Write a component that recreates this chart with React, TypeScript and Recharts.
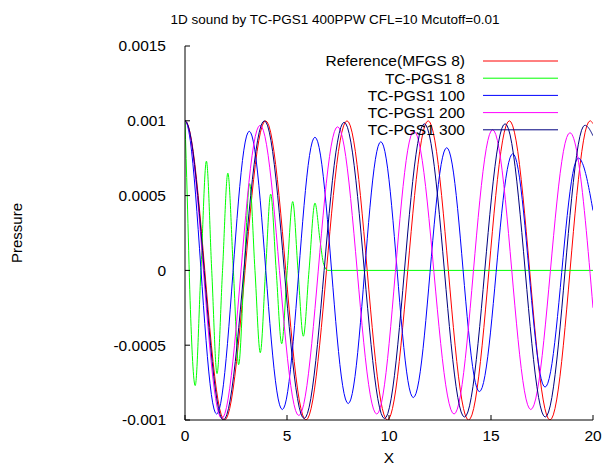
import { LineChart, Line, XAxis, YAxis, Legend } from "recharts";

const FONT = "'Liberation Sans', Arial, Helvetica, sans-serif";

// axis ticks
const xTicks = [0, 5, 10, 15, 20];
const yTicks = [-0.001, -0.0005, 0, 0.0005, 0.001, 0.0015];

// Reference(MFGS 8): peaks / troughs, plus the value at x=20
const refX = [0, 1.94, 3.95, 5.93, 7.94, 9.92, 11.92, 13.9, 15.9, 17.89, 19.86, 20];
const refY = [0.001, -0.001, 0.001, -0.001, 0.001, -0.001, 0.001, -0.001, 0.001, -0.001, 0.001, 0.00098];

// TC-PGS1 8 (short wave, dies out near x=7)
const tc8X = [0, 0.11, 0.25, 0.5, 0.78, 1.05, 1.31, 1.57, 1.84, 2.1, 2.37, 2.63, 2.9, 3.17, 3.43, 3.69, 3.95, 4.2, 4.47, 4.74, 5.01, 5.28, 5.54, 5.8, 6.08, 6.37, 6.62, 6.8, 7.0, 20];
const tc8Y = [0.001, 0.00049, -0.0002, -0.00077, 0, 0.00073, 0, -0.00069, 0, 0.00065, 0, -0.00063, 0, 0.00058, 0, -0.00055, 0, 0.00051, 0, -0.00049, 0, 0.00046, 0, -0.00044, 0, 0.00045, 0.0002, 0.00004, 0, 0];

// TC-PGS1 100
const tc100X = [0, 1.55, 3.15, 4.77, 6.37, 8.0, 9.6, 11.19, 12.83, 14.43, 16.07, 17.65, 19.28, 20];
const tc100Y = [0.001, -0.00096, 0.00093, -0.00093, 0.00089, -0.00089, 0.00086, -0.00085, 0.00082, -0.00081, 0.00078, -0.00078, 0.00075, 0.0004];

// TC-PGS1 200
const tc200X = [0, 1.8, 3.68, 5.58, 7.48, 9.4, 11.22, 13.19, 15.08, 16.95, 18.87, 20];
const tc200Y = [0.001, -0.00099, 0.00097, -0.00097, 0.00096, -0.00096, 0.00093, -0.00096, 0.00094, -0.00093, 0.00092, -0.00025];

// TC-PGS1 300
const tc300X = [0, 1.88, 3.89, 5.84, 7.8, 9.78, 11.73, 13.7, 15.69, 17.66, 19.6, 20];
const tc300Y = [0.001, -0.001, 0.001, -0.00099, 0.00099, -0.00099, 0.00098, -0.00098, 0.00098, -0.00098, 0.00097, 0.0009];

const toPoints = (xs: number[], ys: number[]) => xs.map((x, i) => ({ x, p: ys[i] }));

// curve through extrema: half-cosine between successive points,
// the last (partial) segment is a quarter-cosine leaving the final peak
function cosineCurve(context: any) {
  let pts: number[][] = [];
  return {
    areaStart() {},
    areaEnd() {},
    lineStart() {
      pts = [];
    },
    point(x: number, y: number) {
      pts.push([+x, +y]);
    },
    lineEnd() {
      if (!pts.length) return;
      context.moveTo(pts[0][0], pts[0][1]);
      for (let i = 1; i < pts.length; i++) {
        const [x0, y0] = pts[i - 1];
        const [x1, y1] = pts[i];
        const last = i === pts.length - 1;
        const steps = 24;
        for (let k = 1; k <= steps; k++) {
          const u = k / steps;
          const w = last ? 1 - Math.cos((u * Math.PI) / 2) : (1 - Math.cos(u * Math.PI)) / 2;
          context.lineTo(x0 + (x1 - x0) * u, y0 + (y1 - y0) * w);
        }
      }
    },
  };
}

const series = [
  { name: "Reference(MFGS 8)", color: "#ff0000", data: toPoints(refX, refY), curve: cosineCurve as any },
  { name: "TC-PGS1 8", color: "#00ff00", data: toPoints(tc8X, tc8Y), curve: "monotone" as any },
  { name: "TC-PGS1 100", color: "#0000ff", data: toPoints(tc100X, tc100Y), curve: cosineCurve as any },
  { name: "TC-PGS1 200", color: "#ff00ff", data: toPoints(tc200X, tc200Y), curve: cosineCurve as any },
  { name: "TC-PGS1 300", color: "#00007f", data: toPoints(tc300X, tc300Y), curve: cosineCurve as any },
];
const seriesNames = series.map((s) => s.name);

const TICK = 5;
const INK = "#000";

function LeftTick(props: any) {
  const { x, y, payload } = props;
  return (
    <g>
      <line x1={x} x2={x + TICK} y1={y} y2={y} stroke={INK} />
      <text x={x - 19} y={y} dy="0.35em" textAnchor="end" fontSize={15.5} fontFamily={FONT} fill={INK}>
        {String(payload.value)}
      </text>
    </g>
  );
}

function RightTick(props: any) {
  const { x, y } = props;
  return <line x1={x - TICK} x2={x} y1={y} y2={y} stroke={INK} />;
}

function BottomTick(props: any) {
  const { x, y, payload } = props;
  return (
    <g>
      <line x1={x} x2={x} y1={y} y2={y - TICK} stroke={INK} />
      <text x={x} y={y + 21} textAnchor="middle" fontSize={15.5} fontFamily={FONT} fill={INK}>
        {String(payload.value)}
      </text>
    </g>
  );
}

function TopTick(props: any) {
  const { x, y } = props;
  return <line x1={x} x2={x} y1={y} y2={y + TICK} stroke={INK} />;
}

function KeyBox({ payload }: any) {
  return (
    <svg width={603} height={467} style={{ position: "absolute", left: 0, top: 0, pointerEvents: "none" }}>
      {(payload || []).map((e: any, i: number) => {
        const y = 61 + i * 17.2;
        return (
          <g key={e.value}>
            <text x={465} y={y} dy="0.35em" textAnchor="end" fontSize={15.5} fontFamily={FONT} fill={INK}>
              {e.value}
            </text>
            <line x1={483} x2={558} y1={y} y2={y} stroke={e.color} />
          </g>
        );
      })}
    </svg>
  );
}

export default function App() {
  return (
    <div style={{ position: "fixed", left: 0, top: 0, width: 603, height: 467, background: "#fff", fontFamily: FONT }}>
      <div
        style={{
          position: "absolute",
          left: 0,
          top: 0,
          width: 670,
          lineHeight: "40px",
          textAlign: "center",
          fontSize: 13.5,
          color: INK,
        }}
      >
        1D sound by TC-PGS1 400PPW CFL=10 Mcutoff=0.01
      </div>
      <LineChart width={603} height={467} margin={{ top: 46, right: 10, bottom: 0, left: 0 }}>
        <XAxis
          dataKey="x"
          type="number"
          domain={[0, 20]}
          ticks={xTicks}
          interval={0}
          allowDataOverflow
          height={47}
          tickSize={0}
          tickMargin={0}
          tick={<BottomTick />}
          axisLine={{ stroke: INK }}
          label={{ value: "X", position: "insideBottom", offset: 4, fontSize: 15.5, fill: INK }}
        />
        <XAxis
          xAxisId="top"
          orientation="top"
          dataKey="x"
          type="number"
          domain={[0, 20]}
          ticks={xTicks}
          interval={0}
          height={0}
          tickSize={0}
          tickMargin={0}
          tick={<TopTick />}
          axisLine={{ stroke: INK }}
        />
        <YAxis
          type="number"
          domain={[-0.001, 0.0015]}
          ticks={yTicks}
          interval={0}
          allowDataOverflow
          width={185}
          tickSize={0}
          tickMargin={0}
          tick={<LeftTick />}
          axisLine={{ stroke: INK }}
          label={{
            value: "Pressure",
            angle: -90,
            position: "insideLeft",
            offset: 17,
            fontSize: 15,
            fill: INK,
            style: { textAnchor: "middle" },
          }}
        />
        <YAxis
          yAxisId="right"
          orientation="right"
          type="number"
          domain={[-0.001, 0.0015]}
          ticks={yTicks}
          interval={0}
          width={0}
          tickSize={0}
          tickMargin={0}
          tick={<RightTick />}
          axisLine={{ stroke: INK }}
        />
        <Legend
          layout="vertical"
          align="center"
          verticalAlign="middle"
          itemSorter={(item: any) => seriesNames.indexOf(item.value)}
          content={<KeyBox />}
          wrapperStyle={{ position: "absolute", left: 0, top: 0, width: 603, height: 467 }}
        />
        {series.map((s) => (
          <Line
            key={s.name}
            name={s.name}
            data={s.data}
            dataKey="p"
            type={s.curve}
            stroke={s.color}
            strokeWidth={1}
            dot={false}
            activeDot={false}
            isAnimationActive={false}
          />
        ))}
      </LineChart>
    </div>
  );
}
